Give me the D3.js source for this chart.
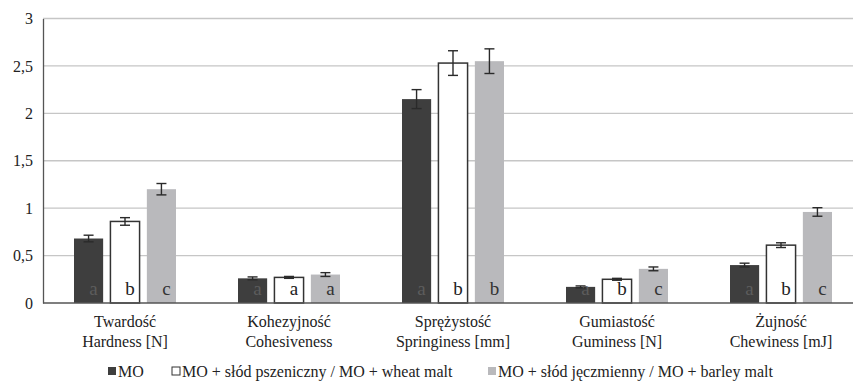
<!DOCTYPE html>
<html>
<head>
<meta charset="utf-8">
<script src="https://cdn.jsdelivr.net/npm/d3@7"></script>
<style>
  body { margin: 0; background: #fff; }
  svg text { font-family: "Liberation Serif", "Times New Roman", "Nimbus Roman", "DejaVu Serif", "Noto Serif", serif; fill: #222; }
</style>
</head>
<body>
<div id="chart"></div>
<script>
// categories, two lines each
const categories = ["Twardość", "Kohezyjność", "Sprężystość", "Gumiastość", "Żujność"];
const categoriesEn = ["Hardness [N]", "Cohesiveness", "Springiness [mm]", "Guminess [N]", "Chewiness [mJ]"];

const seriesNames = ["MO", "MO + słód pszeniczny / MO + wheat malt", "MO + słód jęczmienny / MO + barley malt"];

// means
const moValues = [0.68, 0.26, 2.15, 0.17, 0.40];
const wheatValues = [0.86, 0.27, 2.53, 0.25, 0.61];
const barleyValues = [1.20, 0.30, 2.55, 0.36, 0.96];

// error (+/-)
const moErr = [0.035, 0.015, 0.10, 0.01, 0.02];
const wheatErr = [0.04, 0.01, 0.13, 0.01, 0.025];
const barleyErr = [0.06, 0.02, 0.13, 0.02, 0.045];

// significance letters
const moLetters = ["a", "a", "a", "a", "a"];
const wheatLetters = ["b", "a", "b", "b", "b"];
const barleyLetters = ["c", "a", "b", "c", "c"];

const yTicks = [0, 0.5, 1, 1.5, 2, 2.5, 3];

const W = 853, H = 383;
const fills = ["#3e3e3e", "#ffffff", "#b9b9bc"];
const strokes = ["none", "#333", "none"];
const letterColors = ["#5c5c5c", "#222", "#333"];

const allSeries = [
  { name: seriesNames[0], values: moValues, err: moErr, letters: moLetters },
  { name: seriesNames[1], values: wheatValues, err: wheatErr, letters: wheatLetters },
  { name: seriesNames[2], values: barleyValues, err: barleyErr, letters: barleyLetters }
];

const svg = d3.select("#chart").append("svg")
  .attr("width", W).attr("height", H);

const x0 = d3.scaleBand().domain(categories).range([43, 863]).padding(0);
const x1 = d3.scaleBand().domain(d3.range(3)).range([-51, 51]).paddingInner(0.2);
const y = d3.scaleLinear().domain([0, 3]).range([303, 18.5]);

// gridlines
svg.append("g")
  .selectAll("line")
  .data(yTicks.filter(t => t > 0))
  .enter().append("line")
  .attr("x1", 43).attr("x2", W)
  .attr("y1", d => y(d)).attr("y2", d => y(d))
  .attr("stroke", "#c6c6c6").attr("stroke-width", 1.3);

// y axis
const yAxis = svg.append("g")
  .attr("transform", "translate(43,0)")
  .call(d3.axisLeft(y).tickValues(yTicks).tickSize(0).tickPadding(10)
    .tickFormat(d => String(d).replace(".", ",")));
yAxis.attr("font-family", null);
yAxis.select(".domain").attr("stroke", "#555").attr("stroke-width", 1.3);
yAxis.selectAll("text").style("font-size", "16px").attr("fill", "#222");

// bars
allSeries.forEach((s, si) => {
  const g = svg.append("g");
  g.selectAll("rect")
    .data(s.values)
    .enter().append("rect")
    .attr("x", (d, i) => x0(categories[i]) + x0.bandwidth() / 2 + x1(si))
    .attr("y", d => y(d))
    .attr("width", x1.bandwidth())
    .attr("height", d => y(0) - y(d))
    .attr("fill", fills[si])
    .attr("stroke", strokes[si])
    .attr("stroke-width", 1.5);

  // error bars
  s.values.forEach((v, i) => {
    const cx = x0(categories[i]) + x0.bandwidth() / 2 + x1(si) + x1.bandwidth() / 2;
    const e = s.err[i];
    const eg = g.append("g").attr("stroke", "#2a2a2a").attr("stroke-width", 1.4);
    eg.append("line").attr("x1", cx).attr("x2", cx).attr("y1", y(v + e)).attr("y2", y(v - e));
    eg.append("line").attr("x1", cx - 5).attr("x2", cx + 5).attr("y1", y(v + e)).attr("y2", y(v + e));
    eg.append("line").attr("x1", cx - 5).attr("x2", cx + 5).attr("y1", y(v - e)).attr("y2", y(v - e));
  });

  // letters
  g.selectAll("text.letter")
    .data(s.letters)
    .enter().append("text")
    .attr("class", "letter")
    .attr("x", (d, i) => x0(categories[i]) + x0.bandwidth() / 2 + x1(si) + x1.bandwidth() / 2 + 5)
    .attr("y", y(0) - 8)
    .attr("text-anchor", "middle")
    .style("font-size", "19px")
    .style("fill", letterColors[si])
    .text(d => d);
});

// x axis baseline
svg.append("line")
  .attr("x1", 43).attr("x2", W)
  .attr("y1", y(0)).attr("y2", y(0))
  .attr("stroke", "#555").attr("stroke-width", 1.5);

// category labels
const labels = svg.append("g");
categories.forEach((c, i) => {
  const cx = x0(c) + x0.bandwidth() / 2;
  const t = labels.append("text")
    .attr("x", cx).attr("text-anchor", "middle")
    .style("font-size", "16px");
  t.append("tspan").attr("x", cx).attr("y", 327).text(c);
  t.append("tspan").attr("x", cx).attr("y", 347).text(categoriesEn[i]);
});

// legend
const legendX = [108, 172, 488];
const legend = svg.append("g");
seriesNames.forEach((n, i) => {
  legend.append("rect")
    .attr("x", legendX[i]).attr("y", 367)
    .attr("width", 8).attr("height", 8)
    .attr("fill", fills[i])
    .attr("stroke", i === 1 ? "#333" : "none")
    .attr("stroke-width", 1);
  legend.append("text")
    .attr("x", legendX[i] + 10).attr("y", 377)
    .style("font-size", "16px")
    .text(n);
});
</script>
</body>
</html>
